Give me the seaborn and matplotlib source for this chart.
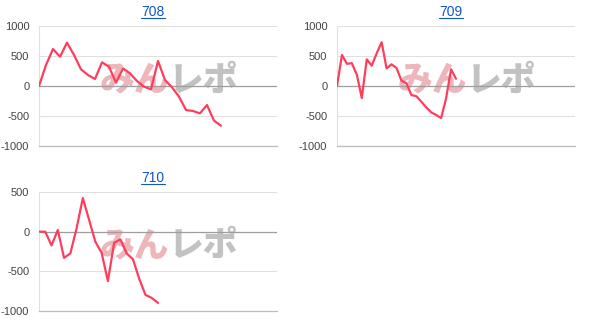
import numpy as np
import pandas as pd
import matplotlib
matplotlib.use("Agg")
import matplotlib.pyplot as plt
from matplotlib.lines import Line2D
import seaborn as sns

titles = ["708", "709", "710"]
v708 = [0, 350, 617, 489, 722, 517, 278, 183, 117, 394, 322, 56, 294, 211, 83,
        -11, -56, 417, 100, -22, -178, -400, -417, -456, -317, -578, -661]
v709 = [0, 517, 370, 380, 190, -200, 444, 339, 544, 730, 294, 361, 300, 90, 44,
        -150, -170, -261, -356, -439, -483, -533, -206, 278, 120]
v710 = [0, 0, -174, 21, -330, -275, 42, 424, 148, -127, -267, -623, -140, -97,
        -275, -347, -593, -797, -835, -898]
series = [v708, v709, v710]
xmax = [34, 48, 38]
yticks = [[-1000, -500, 0, 500, 1000], [-1000, -500, 0, 500, 1000], [-1000, -500, 0, 500]]
ylims = [(-1000, 1000), (-1000, 1000), (-1000, 500)]

sns.set_style("white")
plt.rcParams['font.family'] = ['Liberation Sans', 'DejaVu Sans']

W, H = 600, 332
fig = plt.figure(figsize=(W / 100, H / 100), dpi=100)
# (left, top, right, bottom) in pixels
boxes = [(39, 26, 277, 146), (337, 26, 575, 146), (39, 192, 277, 311)]
line_color = "#ff3d5c"
axes = []
for i, (t, vals) in enumerate(zip(titles, series)):
    l, tp, r, b = boxes[i]
    ax = fig.add_axes([l / W, 1 - b / H, (r - l) / W, (b - tp) / H])
    axes.append(ax)
    df = pd.DataFrame({"x": np.arange(len(vals)), "y": vals})
    # watermark
    ax.text(0.545, 0.55, "みん", transform=ax.transAxes, ha="right", va="center",
            fontsize=25, fontweight="black", color="#e9a9b0", alpha=0.85,
            family=["Noto Sans CJK JP"], zorder=0)
    ax.text(0.545, 0.55, "レポ", transform=ax.transAxes, ha="left", va="center",
            fontsize=25, fontweight="black", color="#b8b8b8", alpha=0.85,
            family=["Noto Sans CJK JP"], zorder=0)
    sns.lineplot(data=df, x="x", y="y", ax=ax, color=line_color, linewidth=1.6,
                 zorder=3)
    ax.set_xlim(0, xmax[i])
    ax.set_ylim(*ylims[i])
    ax.set_yticks(yticks[i])
    ax.set_yticklabels([str(v) for v in yticks[i]])
    ax.set_xticks([])
    ax.set_xlabel("")
    ax.set_ylabel("")
    for v in yticks[i]:
        if v == 0:
            ax.axhline(0, color="#9e9e9e", linewidth=0.9, zorder=2)
        else:
            ax.axhline(v, color="#e0e0e0", linewidth=0.8, zorder=1)
    for s in ["top", "right"]:
        ax.spines[s].set_visible(False)
    ax.spines["left"].set_color("#e0e0e0")
    ax.spines["left"].set_linewidth(0.8)
    ax.spines["bottom"].set_color("#bdbdbd")
    ax.spines["bottom"].set_linewidth(0.9)
    ax.tick_params(axis="y", length=0, pad=7, labelsize=8, labelcolor="#444444")
    ax.set_title(t, x=0.479, pad=7, fontsize=10, color="#1155cc")

fig.canvas.draw()
renderer = fig.canvas.get_renderer()
for ax in axes:
    bb = ax.title.get_window_extent(renderer)
    y = bb.y0 + 1.5
    fig.add_artist(Line2D([bb.x0 / W, bb.x1 / W], [y / H, y / H],
                          transform=fig.transFigure, color="#1155cc", linewidth=0.8))

fig.savefig("out.png", dpi=100)
